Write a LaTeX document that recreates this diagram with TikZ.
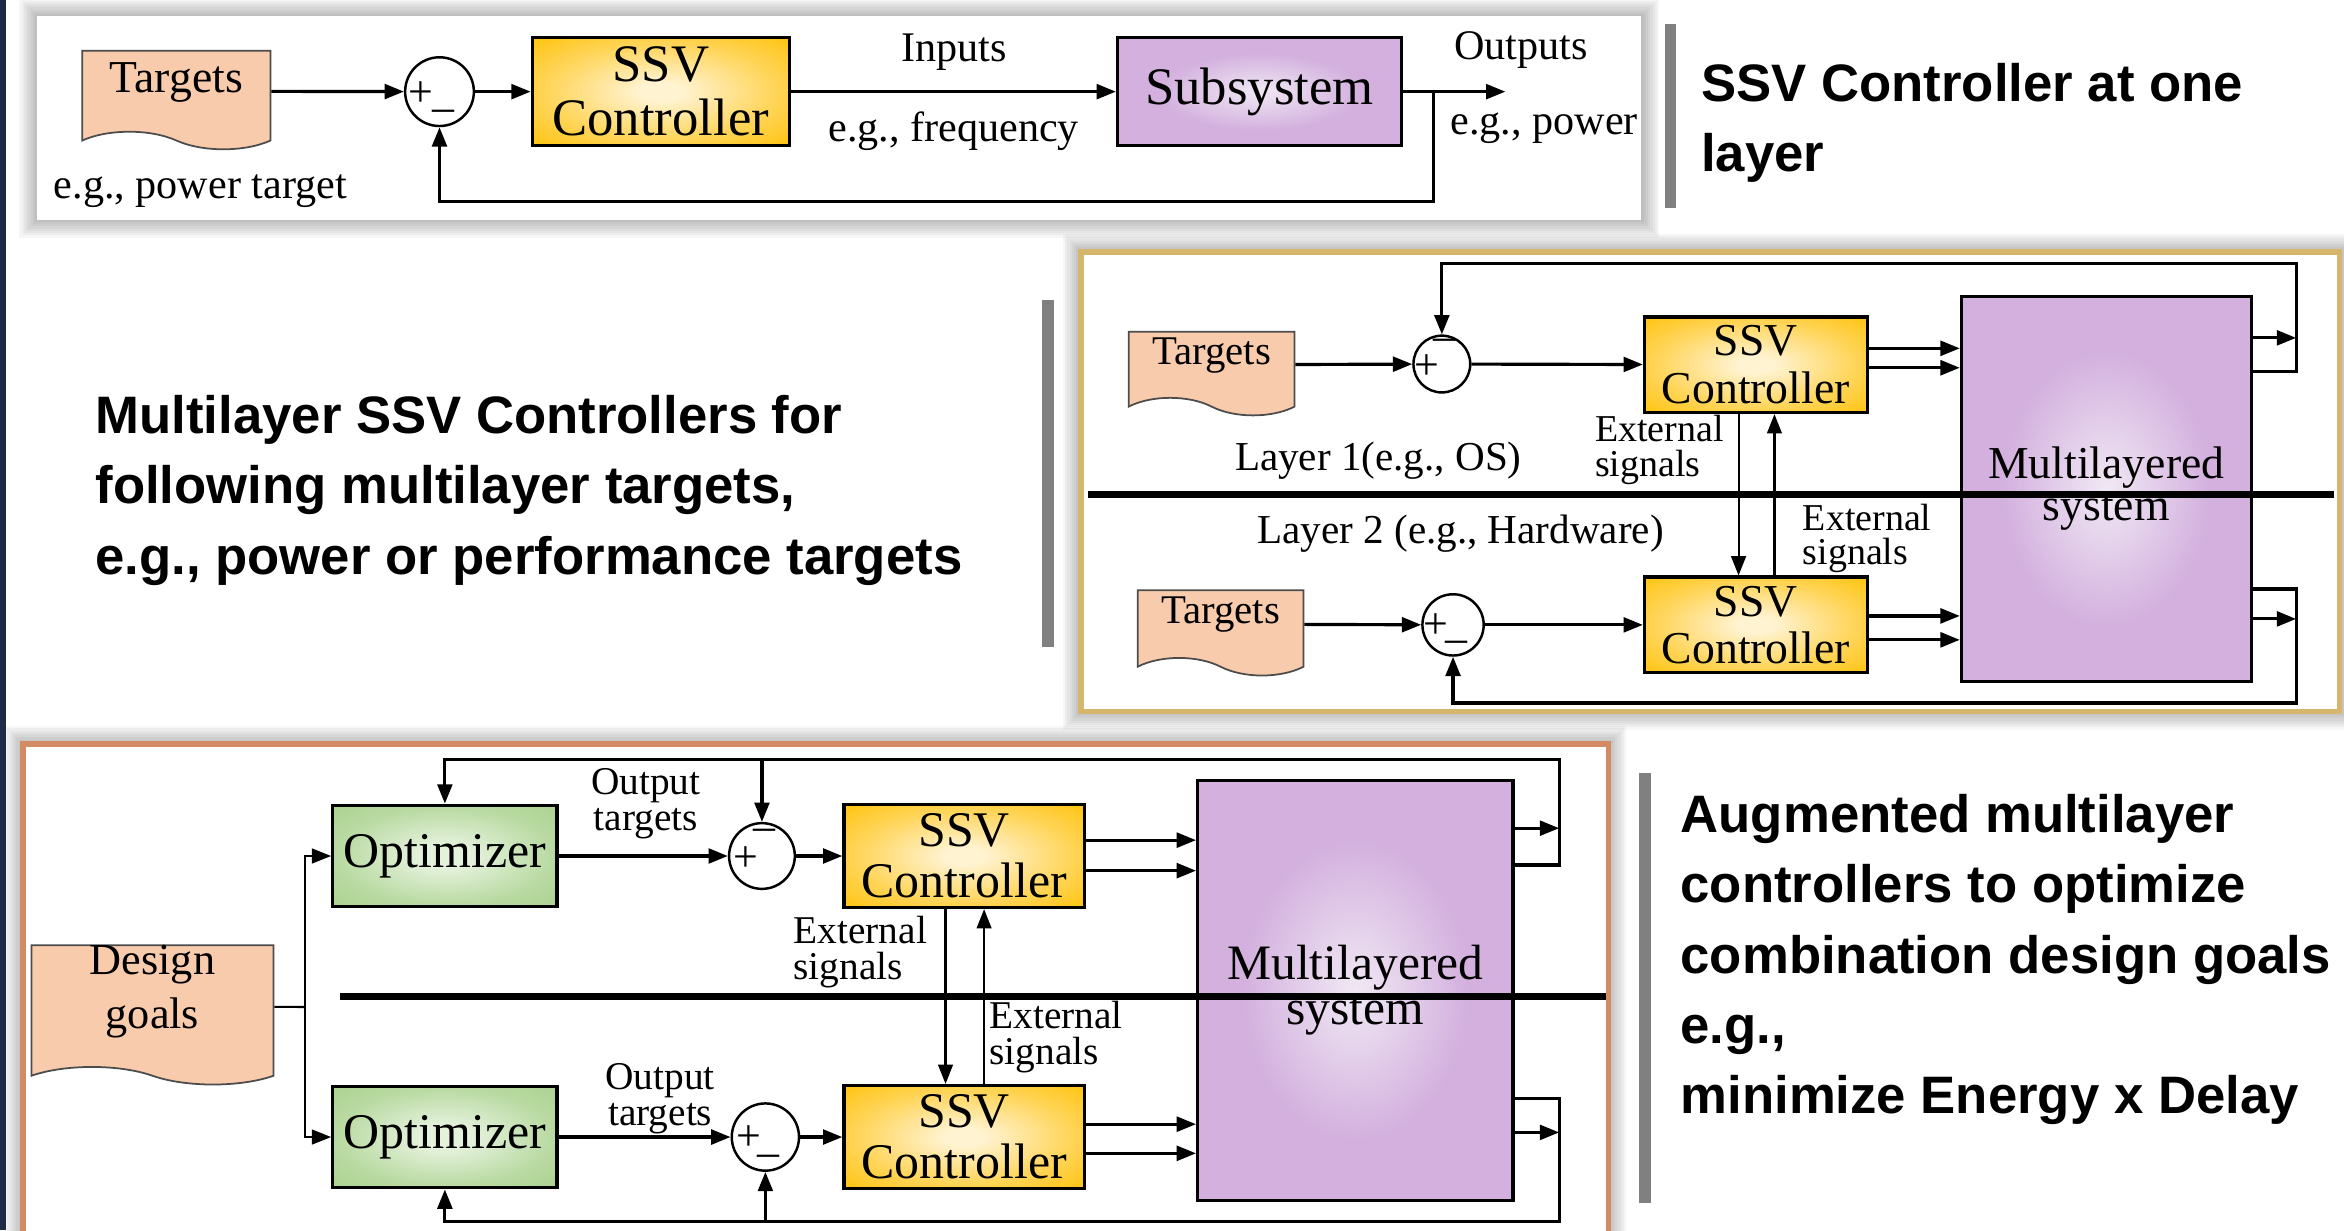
\documentclass[tikz,border=0pt]{standalone}
\usepackage{fontspec}
\setmainfont{Liberation Serif}
\newfontfamily\headfont{Liberation Sans}
\usetikzlibrary{arrows.meta,positioning,shapes.symbols}

\definecolor{ssvout}{HTML}{FFC000}
\definecolor{ssvmid}{HTML}{FFD55A}
\definecolor{ssvin}{HTML}{FFF3D2}
\definecolor{sysout}{HTML}{9A5CB8}
\definecolor{sysmid}{HTML}{D3B0DE}
\definecolor{sysin}{HTML}{F0E8F4}
\definecolor{optout}{HTML}{A6CF8A}
\definecolor{optmid}{HTML}{B9DAA2}
\definecolor{optin}{HTML}{E4F1DB}
\definecolor{docfill}{HTML}{F8CBAD}
\definecolor{goldframe}{HTML}{D6B56C}
\definecolor{copperframe}{HTML}{D28B62}
\definecolor{slidenavy}{HTML}{1F2A44}

\pgfdeclareradialshading{ssvshade}{\pgfpoint{0bp}{0bp}}{color(0bp)=(ssvin); color(4bp)=(ssvin); color(22bp)=(ssvmid); color(38bp)=(ssvout); color(72bp)=(ssvout)}
\pgfdeclareradialshading{sysshade}{\pgfpoint{0bp}{0bp}}{color(0bp)=(sysin); color(18bp)=(sysmid); color(52bp)=(sysmid); color(68bp)=(sysout); color(72bp)=(sysout)}
\pgfdeclareradialshading{optshade}{\pgfpoint{0bp}{0bp}}{color(0bp)=(optin); color(6bp)=(optin); color(24bp)=(optmid); color(40bp)=(optout); color(72bp)=(optout)}

\newcommand{\un}{0.4253pt}% one grid step of the picture
\newcommand{\fs}[2]{\fontsize{#1}{#2}\selectfont}

\begin{document}
\begin{tikzpicture}[x=0.014949cm,y=-0.014949cm,>={Triangle[length=5.5pt,width=4.2pt]},
  blk/.style={draw,line width=0.9pt,align=center,inner sep=0pt},
  ssv/.style={blk,shading=ssvshade},
  plant/.style={blk,shading=sysshade},
  optim/.style={blk,shading=optshade},
  doc/.style={tape,tape bend top=none,tape bend bottom=out and in,tape bend height=5pt,
    draw=black!70,line width=0.5pt,fill=docfill,inner sep=0pt,align=center},
  sumpt/.style={circle,draw,line width=0.7pt,fill=white,inner sep=0pt},
  sign/.style={inner sep=0pt,font=\fs{12.5}{12.5}},
  lab/.style={inner sep=0pt,align=center},
  ext/.style={inner sep=0pt,align=left,font=\fs{10.8}{9.8}},
  head/.style={anchor=west,align=left,inner sep=0pt,font=\headfont\bfseries\fs{15}{20}},
  flow/.style={->,line width=0.9pt},
  wire/.style={line width=0.9pt},
  thinflow/.style={->,line width=0.6pt},
  divider/.style={line width=1.9pt},
  bar/.style={fill=black!50},
]
\useasboundingbox (0,0) rectangle (1568,823);

% panels with a soft shadow
\foreach \w in {3,6,...,24} {
  \draw[black,opacity=0.035,line width=\w*\un] (25,11) rectangle (1098,147);
  \draw[black,opacity=0.035,line width=\w*\un] (723,168.5) rectangle (1565,476);
  \draw[black,opacity=0.035,line width=\w*\un] (15.4,497.7) rectangle (1076,840);
}
\fill[white] (25,11) rectangle (1098,147);
\draw[goldframe,line width=1.6pt,fill=white] (723,168.5) rectangle (1565,476);
\draw[copperframe,line width=1.6pt,fill=white] (15.4,497.7) rectangle (1076,840);
\fill[slidenavy] (0,0) rectangle (4,823);

% side bars and headings
\fill[bar] (1114,16) rectangle (1121,139);
\fill[bar] (697,200.7) rectangle (705,432.6);
\fill[bar] (1096.5,517) rectangle (1104.4,805);
\node[head] (hdA) at (1137.6,82) {SSV Controller at one\\layer};
\node[head] (hdB) at (63.4,328) {Multilayer SSV Controllers for\\following multilayer targets,\\e.g., power or performance targets};
\node[head] (hdC) at (1123.8,642) {Augmented multilayer\\controllers to optimize\\combination design goals\\e.g.,\\minimize Energy x Delay};

% one layer
\node[doc,minimum width=126*\un,minimum height=66*\un,text depth=7.5pt,font=\fs{13}{15}] (tgtA) at (118,61) {Targets};
\node[sumpt,minimum size=46*\un] (sumA) at (294,61.3) {};
\node[sign] (plusA) at ([xshift=-5.4pt,yshift=-0.8pt]sumA.center) {+};
\node[sign] (minA) at ([xshift=1pt,yshift=-7pt]sumA.center) {–};
\node[ssv,minimum width=172*\un,minimum height=72*\un,font=\fs{15}{15.3}] (ssvA) at (442,61.3) {SSV\\Controller};
\node[plant,minimum width=190*\un,minimum height=72*\un,font=\fs{15}{15.3}] (subA) at (842.5,61.3) {Subsystem};
\node[lab,font=\fs{12}{14}] (ptA) at (134,128) {e.g., power target};
\node[lab,font=\fs{12}{14}] (inA) at (638,34.6) {Inputs};
\node[lab,font=\fs{12}{14}] (frqA) at (638,88) {e.g., frequency};
\node[lab,font=\fs{12}{14}] (outlA) at (1017.6,33.4) {Outputs};
\node[lab,font=\fs{12}{14}] (powA) at (1033,85.9) {e.g., power};
\coordinate (outA) at (1007,61.3);
\coordinate (fbA) at (959,61.3);
\coordinate (botA) at (294,135);
\draw[flow] (tgtA) -- (sumA);
\draw[flow] (sumA) -- (ssvA);
\draw[flow] (ssvA) -- (subA);
\draw[flow] (subA) -- (outA);
\draw[flow] (fbA) |- (botA) -- (sumA);

% two layers
\node[doc,minimum width=111*\un,minimum height=56*\un,text depth=8pt,font=\fs{11.6}{13}] (tgtB) at (810.5,244) {Targets};
\node[sumpt,minimum size=38*\un] (sumB) at (964.5,243.5) {};
\node[sign] (plusB) at ([xshift=-4.2pt,yshift=-1pt]sumB.center) {+};
\node[sign] (minB) at ([xshift=0.8pt,yshift=5.6pt]sumB.center) {–};
\node[ssv,minimum width=149*\un,minimum height=64*\un,font=\fs{13}{13.5}] (ssvB) at (1174.5,244) {SSV\\Controller};
\node[doc,minimum width=111*\un,minimum height=57*\un,text depth=7.8pt,font=\fs{11.6}{13}] (tgtC) at (816.5,417.5) {Targets};
\node[sumpt,minimum size=41*\un] (sumC) at (972,418) {};
\node[sign] (plusC) at ([xshift=-4.8pt,yshift=-0.4pt]sumC.center) {+};
\node[sign] (minC) at ([xshift=1pt,yshift=-6.2pt]sumC.center) {–};
\node[ssv,minimum width=149*\un,minimum height=64*\un,font=\fs{13}{13.5}] (ssvC) at (1174.5,418) {SSV\\Controller};
\node[plant,minimum width=194*\un,minimum height=258*\un,font=\fs{13}{12}] (sysB) at (1409,327) {Multilayered\\system};
\node[lab,font=\fs{11.7}{13}] (lyrB) at (922,308) {Layer 1(e.g., OS)};
\node[lab,font=\fs{11.7}{13}] (lyrC) at (977,357) {Layer 2 (e.g., Hardware)};
\node[ext] (extB) at (1110,301) {External\\signals};
\node[ext] (extC) at (1249,360) {External\\signals};
\coordinate (trB) at (1536,176);
\coordinate (brB) at (1536,470.3);
\draw[flow] (tgtB) -- (sumB);
\draw[flow] (sumB) -- (ssvB);
\draw[flow] (tgtC) -- (sumC);
\draw[flow] (sumC) -- (ssvC);
\draw[flow] (ssvB.east |- 0,233) -- (sysB.west |- 0,233);
\draw[flow] (ssvB.east |- 0,246) -- (sysB.west |- 0,246);
\draw[flow] (ssvC.east |- 0,412) -- (sysB.west |- 0,412);
\draw[flow] (ssvC.east |- 0,428) -- (sysB.west |- 0,428);
\draw[thinflow] (ssvB.south -| 1163,0) -- (ssvC.north -| 1163,0);
\draw[thinflow] (ssvC.north -| 1187,0) -- (ssvB.south -| 1187,0);
\draw[flow] (sysB.east |- 0,248.6) -| (trB) -| (sumB);
\draw[flow] (sysB.east |- 0,226) -- (trB |- 0,226);
\draw[flow] (sysB.east |- 0,394) -| (brB) -| (sumC);
\draw[flow] (sysB.east |- 0,414) -- (brB |- 0,414);
\draw[divider] (728,331) -- (1561,331);

% optimizers on top of the two layers
\node[doc,minimum width=162*\un,minimum height=91.5*\un,text depth=11pt,font=\fs{12.6}{15.3}] (goal) at (102,673) {Design\\goals};
\node[optim,minimum width=150*\un,minimum height=68*\un,font=\fs{14.2}{14.5}] (optA) at (297.6,572.6) {Optimizer};
\node[optim,minimum width=150*\un,minimum height=68*\un,font=\fs{14.2}{14.5}] (optB) at (297.6,760.6) {Optimizer};
\node[sumpt,minimum size=44*\un] (sumD) at (509.7,572.6) {};
\node[sign] (plusD) at ([xshift=-4.6pt,yshift=-0.8pt]sumD.center) {+};
\node[sign] (minD) at ([xshift=0.6pt,yshift=6pt]sumD.center) {–};
\node[sumpt,minimum size=45*\un] (sumE) at (512,760.6) {};
\node[sign] (plusE) at ([xshift=-4.8pt,yshift=-0.4pt]sumE.center) {+};
\node[sign] (minE) at ([xshift=1pt,yshift=-6.8pt]sumE.center) {–};
\node[ssv,minimum width=161*\un,minimum height=69*\un,font=\fs{14.2}{14.5}] (ssvD) at (645,572.6) {SSV\\Controller};
\node[ssv,minimum width=161*\un,minimum height=69*\un,font=\fs{14.2}{14.5}] (ssvE) at (645,760.6) {SSV\\Controller};
\node[plant,minimum width=211*\un,minimum height=281*\un,font=\fs{14.1}{12.8}] (sysD) at (906.6,662.4) {Multilayered\\system};
\node[lab,font=\fs{11.2}{10.2}] (otD) at (432,537.5) {Output\\targets};
\node[lab,font=\fs{11.2}{10.2}] (otE) at (441.6,735) {Output\\targets};
\node[ext,font=\fs{11.2}{10.2}] (extD) at (575.5,637) {External\\signals};
\node[ext,font=\fs{11.2}{10.2}] (extE) at (706.5,694) {External\\signals};
\coordinate (splitG) at (204,673.6);
\coordinate (trD) at (1043,507.8);
\coordinate (brD) at (1043,817.3);
\draw[wire,line width=0.6pt] (goal) -- (splitG);
\draw[thinflow] (splitG) |- (optA);
\draw[thinflow] (splitG) |- (optB);
\draw[flow] (optA) -- (sumD);
\draw[flow] (sumD) -- (ssvD);
\draw[flow] (optB) -- (sumE);
\draw[flow] (sumE) -- (ssvE);
\draw[flow] (ssvD.east |- 0,562) -- (sysD.west |- 0,562);
\draw[flow] (ssvD.east |- 0,582.4) -- (sysD.west |- 0,582.4);
\draw[flow] (ssvE.east |- 0,752) -- (sysD.west |- 0,752);
\draw[flow] (ssvE.east |- 0,771.5) -- (sysD.west |- 0,771.5);
\draw[thinflow] (ssvD.south -| 632.5,0) -- (ssvE.north -| 632.5,0);
\draw[thinflow] (ssvE.north -| 658.3,0) -- (ssvD.south -| 658.3,0);
\draw[flow] (sysD.east |- 0,578.6) -| (trD) -| (optA);
\draw[flow] (sumD |- trD) -- (sumD);
\draw[flow] (sysD.east |- 0,554) -- (trD |- 0,554);
\draw[flow] (sysD.east |- 0,735) -| (brD) -| (optB);
\draw[flow] (sumE |- brD) -- (sumE);
\draw[flow] (sysD.east |- 0,757.5) -- (brD |- 0,757.5);
\draw[divider] (227.5,666.7) -- (1074,666.7);
\end{tikzpicture}
\end{document}
